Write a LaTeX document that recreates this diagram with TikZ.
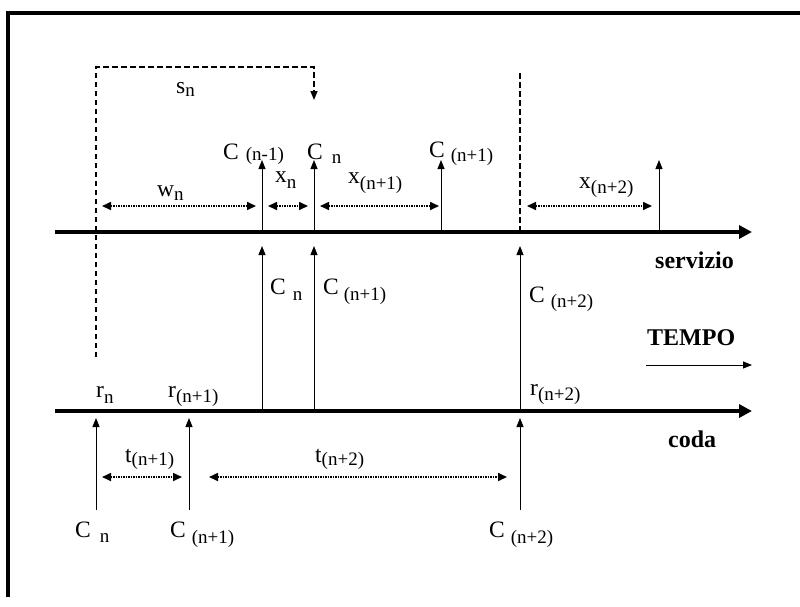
\documentclass[tikz,border=0pt]{standalone}
\usepackage{fontspec}
\setmainfont{Liberation Serif}
\usetikzlibrary{arrows.meta}
\newcommand{\mainfs}{\fontsize{23.5}{26}\selectfont}
\newcommand{\subfs}{\fontsize{19}{20}\selectfont}
\newcommand{\boldfs}{\fontsize{24}{28}\selectfont\bfseries}
\newcommand{\lbl}[4]{{\mainfs #1}\hspace{#2}\raisebox{-#4}{\subfs #3}}
\begin{document}
\begin{tikzpicture}[x=1pt,y=-1pt,
  axisline/.style={line width=3.5pt,-{Triangle[length=13pt,width=13pt]}},
  tickarrow/.style={line width=1pt,-{Triangle[length=9pt,width=7pt]}},
  spanarrow/.style={line width=1.6pt,dash pattern=on 1.5pt off 1pt,{Triangle[length=9pt,width=8pt]}-{Triangle[length=9pt,width=8pt]}},
  dashline/.style={line width=1.5pt,dash pattern=on 5.5pt off 3.5pt},
  framel/.style={line width=3.5pt},
  lab/.style={anchor=base west,inner sep=0pt},
  boldlab/.style={anchor=base west,inner sep=0pt,font=\boldfs}]
\useasboundingbox (0,0) rectangle (800,606);
% frame
\coordinate (f0) at (8,13);
\coordinate (f1) at (800,13);
\coordinate (f2) at (8,597);
\draw[framel] (f1) -- (f0) -- (f2);
% axes
\coordinate (s0) at (55,232); \coordinate (s1) at (752,232);
\coordinate (q0) at (55,411); \coordinate (q1) at (752,411);
% dashed
\coordinate (d0) at (96,357); \coordinate (d1) at (96,67);
\coordinate (d2) at (314,67); \coordinate (d3) at (314,100);
\draw[dashline,-{Triangle[length=9pt,width=7pt]}] (d0) -- (d1) -- (d2) -- (d3);
\coordinate (v0) at (520,73); \coordinate (v1) at (520,232);
\draw[dashline] (v0) -- (v1);
\draw[axisline] (s0) -- (s1);
\draw[axisline] (q0) -- (q1);
% top ticks
\foreach \x/\n in {262/ta,314/tb,441/tc,659/td}{
  \coordinate (\n0) at (\x,230); \coordinate (\n1) at (\x,160);
  \draw[tickarrow] (\n0) -- (\n1);}
% middle ticks
\foreach \x/\n in {262/ma,314/mb,520/mc}{
  \coordinate (\n0) at (\x,409); \coordinate (\n1) at (\x,246);
  \draw[tickarrow] (\n0) -- (\n1);}
% bottom ticks
\foreach \x/\n in {96/ba,189/bb,520/bc}{
  \coordinate (\n0) at (\x,510); \coordinate (\n1) at (\x,418);
  \draw[tickarrow] (\n0) -- (\n1);}
% spans
\coordinate (w0) at (102,206); \coordinate (w1) at (256,206);
\coordinate (xa0) at (268,206); \coordinate (xa1) at (308,206);
\coordinate (xb0) at (320,206); \coordinate (xb1) at (439,206);
\coordinate (xc0) at (527,206); \coordinate (xc1) at (652,206);
\coordinate (ta0) at (102,477); \coordinate (ta1) at (182,477);
\coordinate (tb0) at (209,477); \coordinate (tb1) at (507,477);
\foreach \a/\b in {w0/w1,xa0/xa1,xb0/xb1,xc0/xc1,ta0/ta1,tb0/tb1}
  \draw[spanarrow] (\a) -- (\b);
% tempo arrow
\coordinate (te0) at (646,365); \coordinate (te1) at (752,365);
\draw[tickarrow] (te0) -- (te1);
% labels
\node[lab] (lsn) at (176,93) {\lbl{s}{0pt}{n}{3pt}};
\node[lab] (lwn) at (157,196) {\lbl{w}{0pt}{n}{4pt}};
\node[lab] (lcnm1) at (223,159) {\lbl{C}{7pt}{(n-1)}{1pt}};
\node[lab] (lcn) at (307,159) {\lbl{C}{9pt}{n}{4pt}};
\node[lab] (lxn) at (275,182) {\lbl{x}{0pt}{n}{6pt}};
\node[lab] (lxn1) at (348,183) {\lbl{x}{0pt}{(n+1)}{6pt}};
\node[lab] (lcn1) at (429,157) {\lbl{C}{6pt}{(n+1)}{4pt}};
\node[lab] (lxn2) at (579,188) {\lbl{x}{0pt}{(n+2)}{5pt}};
\node[lab] (mcn) at (270,294) {\lbl{C}{7pt}{n}{6pt}};
\node[lab] (mcn1) at (323,294) {\lbl{C}{5pt}{(n+1)}{6pt}};
\node[lab] (mcn2) at (529,302) {\lbl{C}{6pt}{(n+2)}{5pt}};
\node[lab] (rn) at (96,397) {\lbl{r}{0pt}{n}{6pt}};
\node[lab] (rn1) at (168,397) {\lbl{r}{0pt}{(n+1)}{5pt}};
\node[lab] (rn2) at (530,395) {\lbl{r}{0pt}{(n+2)}{5pt}};
\node[lab] (tn1) at (125,462) {\lbl{t}{0pt}{(n+1)}{3pt}};
\node[lab] (tn2) at (315,462) {\lbl{t}{0pt}{(n+2)}{3pt}};
\node[lab] (bcn) at (75,537) {\lbl{C}{9pt}{n}{5pt}};
\node[lab] (bcn1) at (170,537) {\lbl{C}{6pt}{(n+1)}{6pt}};
\node[lab] (bcn2) at (489,537) {\lbl{C}{6pt}{(n+2)}{6pt}};
\node[boldlab] (serv) at (655,268) {servizio};
\node[boldlab] (tempo) at (647,345) {TEMPO};
\node[boldlab] (coda) at (668,447) {coda};
\end{tikzpicture}
\end{document}
